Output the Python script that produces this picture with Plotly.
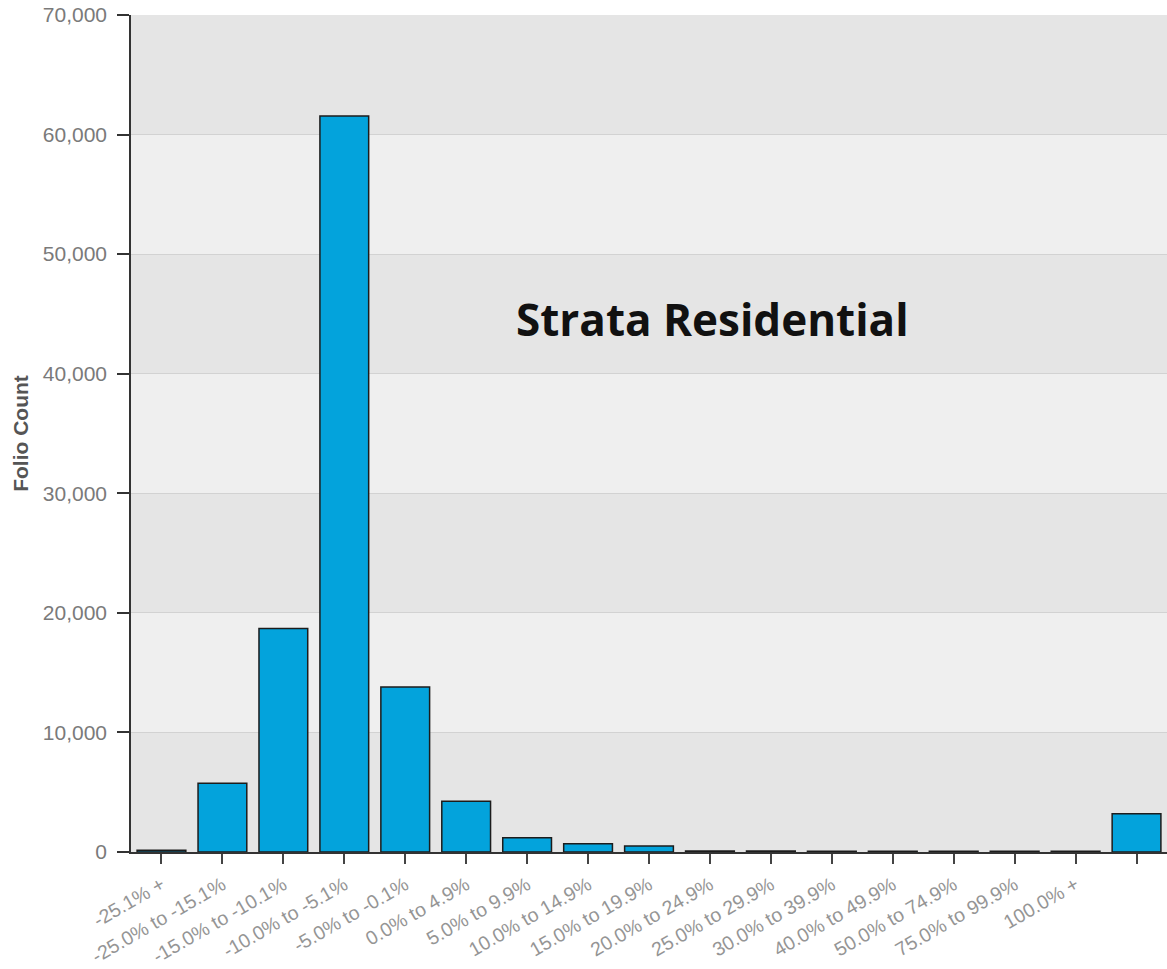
import plotly.graph_objects as go

# Assessment change buckets and folio counts
categories = [
    "-25.1% +", "-25.0% to -15.1%", "-15.0% to -10.1%", "-10.0% to -5.1%",
    "-5.0% to -0.1%", "0.0% to 4.9%", "5.0% to 9.9%", "10.0% to 14.9%",
    "15.0% to 19.9%", "20.0% to 24.9%", "25.0% to 29.9%", "30.0% to 39.9%",
    "40.0% to 49.9%", "50.0% to 74.9%", "75.0% to 99.9%", "100.0% +", "",
]
folio_counts = [150, 5750, 18700, 61550, 13800, 4250, 1200, 700, 500,
                80, 80, 60, 60, 60, 60, 60, 3200]

y_ticks = [0, 10000, 20000, 30000, 40000, 50000, 60000, 70000]

positions = list(range(len(categories)))

fig = go.Figure()
fig.add_trace(go.Bar(
    x=positions,
    y=folio_counts,
    marker=dict(color="#03a3dc", line=dict(color="#1c1c1c", width=1.5)),
    width=0.8,
))

# Alternating background bands between gridlines
shapes = []
for i in range(len(y_ticks) - 1):
    shapes.append(dict(
        type="rect", xref="paper", yref="y", layer="below",
        x0=0, x1=1, y0=y_ticks[i], y1=y_ticks[i + 1],
        fillcolor="#e5e5e5" if i % 2 == 0 else "#efefef",
        line=dict(width=0),
    ))

fig.update_layout(
    width=1167, height=969,
    margin=dict(l=131, r=0, t=15, b=117),
    paper_bgcolor="white",
    plot_bgcolor="#efefef",
    showlegend=False,
    shapes=shapes,
    font=dict(family="Liberation Sans, Arial, sans-serif"),
    annotations=[dict(
        x=9.05, y=44600, xref="x", yref="y",
        text="<b>Strata Residential</b>", showarrow=False,
        font=dict(family="Open Sans, sans-serif", size=44, color="#111111"),
    )],
)

fig.update_xaxes(
    range=[-0.5, len(categories) - 0.5],
    tickmode="array", tickvals=positions, ticktext=categories,
    tickangle=-30,
    tickfont=dict(size=19.5, color="#959595"),
    ticks="outside", ticklen=10, tickcolor="#444444", tickwidth=1.5,
    ticklabelstandoff=2,
    showline=True, linecolor="#333333", linewidth=2,
    showgrid=False, zeroline=False,
    automargin=False,
)

fig.update_yaxes(
    range=[0, 70000],
    tickmode="array", tickvals=y_ticks,
    tickformat=",",
    tickfont=dict(size=21, color="#7a7a7a"),
    ticks="outside", ticklen=12, tickcolor="#333333", tickwidth=1.5,
    ticklabelstandoff=6,
    showline=True, linecolor="#333333", linewidth=1.5,
    showgrid=True, gridcolor="#d2d2d2", gridwidth=1,
    zeroline=False,
    automargin=False,
    title=dict(text="<b>Folio Count</b>", font=dict(size=21, color="#555555"), standoff=8),
)

fig.write_html("out.html")
